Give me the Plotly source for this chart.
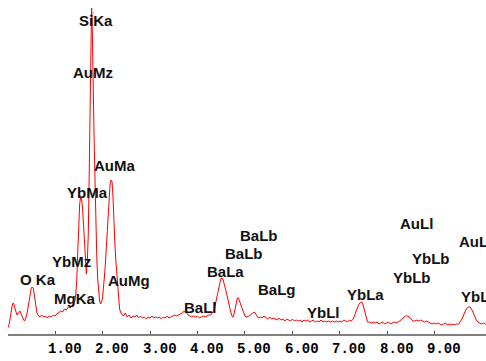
import plotly.graph_objects as go

# EDS spectrum: energy (keV) and counts per channel
energy_kev = [
    0.00, 0.02, 0.04, 0.06, 0.08, 0.10, 0.12, 0.14, 0.16, 0.18,
    0.20, 0.22, 0.24, 0.26, 0.28, 0.30, 0.32, 0.34, 0.36, 0.38,
    0.40, 0.42, 0.44, 0.46, 0.48, 0.50, 0.52, 0.54, 0.56, 0.58,
    0.60, 0.62, 0.64, 0.68, 0.72, 0.76, 0.80, 0.84, 0.88, 0.92,
    0.96, 1.00, 1.04, 1.08, 1.12, 1.16, 1.20, 1.24, 1.28, 1.32,
    1.36, 1.40, 1.42, 1.44, 1.46, 1.48, 1.50, 1.52, 1.54, 1.56,
    1.58, 1.60, 1.62, 1.64, 1.66, 1.68, 1.70, 1.72, 1.74, 1.76,
    1.77, 1.78, 1.80, 1.82, 1.84, 1.86, 1.88, 1.90, 1.92, 1.94,
    1.96, 1.98, 2.00, 2.02, 2.04, 2.06, 2.08, 2.10, 2.12, 2.14,
    2.16, 2.18, 2.20, 2.22, 2.24, 2.26, 2.28, 2.30, 2.32, 2.34,
    2.36, 2.38, 2.40, 2.44, 2.48, 2.52, 2.56, 2.60, 2.64, 2.68,
    2.72, 2.76, 2.80, 2.84, 2.88, 2.92, 2.96, 3.00, 3.04, 3.08,
    3.12, 3.16, 3.20, 3.24, 3.28, 3.32, 3.36, 3.40, 3.44, 3.48,
    3.52, 3.56, 3.60, 3.64, 3.68, 3.72, 3.76, 3.80, 3.84, 3.88,
    3.92, 3.96, 4.00, 4.04, 4.08, 4.12, 4.16, 4.20, 4.24, 4.28,
    4.30, 4.32, 4.34, 4.36, 4.38, 4.40, 4.42, 4.44, 4.46, 4.48,
    4.50, 4.52, 4.54, 4.56, 4.58, 4.60, 4.62, 4.64, 4.66, 4.68,
    4.70, 4.72, 4.74, 4.76, 4.78, 4.80, 4.82, 4.84, 4.86, 4.88,
    4.90, 4.92, 4.94, 4.96, 4.98, 5.00, 5.02, 5.04, 5.08, 5.12,
    5.16, 5.20, 5.24, 5.28, 5.32, 5.36, 5.40, 5.44, 5.48, 5.52,
    5.56, 5.60, 5.64, 5.68, 5.72, 5.76, 5.80, 5.84, 5.88, 5.92,
    5.96, 6.00, 6.04, 6.08, 6.12, 6.16, 6.20, 6.24, 6.28, 6.32,
    6.36, 6.40, 6.44, 6.48, 6.52, 6.56, 6.60, 6.64, 6.68, 6.72,
    6.76, 6.80, 6.84, 6.88, 6.92, 6.96, 7.00, 7.04, 7.08, 7.12,
    7.16, 7.20, 7.24, 7.28, 7.30, 7.32, 7.34, 7.36, 7.38, 7.40,
    7.42, 7.44, 7.46, 7.48, 7.50, 7.52, 7.54, 7.56, 7.58, 7.62,
    7.66, 7.70, 7.74, 7.78, 7.82, 7.86, 7.90, 7.94, 7.98, 8.02,
    8.06, 8.10, 8.14, 8.18, 8.22, 8.26, 8.30, 8.34, 8.38, 8.42,
    8.46, 8.50, 8.54, 8.58, 8.62, 8.66, 8.70, 8.74, 8.78, 8.82,
    8.86, 8.90, 8.94, 8.98, 9.02, 9.06, 9.10, 9.14, 9.18, 9.22,
    9.26, 9.30, 9.34, 9.38, 9.42, 9.46, 9.50, 9.54, 9.58, 9.62,
    9.66, 9.70, 9.74, 9.78, 9.82, 9.86, 9.90, 9.94, 9.98, 10.02,
    10.06, 10.10,
]

counts = [
    6, 7, 11, 17, 24, 29, 31, 29, 25, 21,
    19, 20, 22, 23, 21, 18, 16, 14, 13, 15,
    18, 23, 30, 36, 42, 46, 47, 46, 41, 32,
    25, 21, 19, 17, 19, 17, 18, 16, 18, 17,
    19, 18, 20, 22, 23, 22, 25, 24, 27, 26,
    29, 31, 33, 41, 56, 84, 112, 130, 137, 135,
    126, 107, 83, 64, 60, 72, 99, 159, 234, 314,
    326, 319, 244, 204, 159, 109, 76, 54, 40, 33,
    30, 32, 36, 44, 57, 70, 89, 108, 124, 141,
    150, 154, 153, 138, 108, 91, 74, 60, 44, 32,
    25, 22, 20, 18, 21, 17, 19, 16, 18, 17,
    19, 16, 18, 16, 17, 15, 17, 16, 18, 16,
    17, 16, 17, 15, 17, 16, 18, 16, 17, 18,
    19, 18, 19, 20, 21, 23, 22, 19, 18, 17,
    18, 17, 18, 16, 17, 18, 17, 18, 19, 19,
    20, 21, 23, 26, 31, 36, 41, 45, 49, 53,
    56, 56, 54, 51, 47, 43, 39, 34, 30, 26,
    22, 19, 17, 18, 22, 28, 33, 36, 36, 34,
    31, 28, 25, 22, 20, 18, 17, 17, 18, 19,
    21, 22, 19, 16, 17, 16, 18, 16, 15, 17,
    15, 16, 15, 14, 16, 14, 15, 13, 15, 14,
    13, 15, 13, 14, 13, 14, 12, 14, 13, 14,
    12, 13, 14, 12, 13, 12, 14, 12, 13, 12,
    13, 12, 13, 12, 13, 12, 13, 12, 14, 13,
    12, 14, 13, 15, 17, 20, 23, 26, 29, 30,
    31, 32, 32, 30, 26, 21, 17, 14, 12, 12,
    11, 12, 11, 12, 10, 11, 12, 10, 11, 12,
    10, 11, 12, 11, 12, 13, 15, 17, 18, 18,
    17, 15, 13, 13, 14, 13, 14, 13, 12, 13,
    12, 11, 10, 11, 10, 11, 10, 9, 10, 11,
    9, 10, 9, 10, 9, 10, 10, 13, 16, 21,
    25, 27, 27, 24, 19, 15, 12, 11, 10, 11,
    10, 10,
]

# Peak identification labels: text, energy (keV), height (counts), anchor
peak_labels = ["SiKa", "AuMz", "AuMa", "YbMa", "YbMz", "O Ka", "MgKa", "AuMg",
               "BaLl", "BaLa", "BaLb", "BaLb", "BaLg", "YbLl", "YbLa",
               "AuLl", "YbLb", "YbLb", "AuLa", "YbLg"]
label_energy = [1.863, 1.80, 2.263, 1.674, 1.337, 0.642, 1.40, 2.558,
                4.053, 4.60, 4.979, 5.295, 5.674, 6.663, 7.547,
                8.605, 8.916, 8.516, 9.463, 9.505]
label_height = [314, 262, 169, 142, 73, 55, 36, 54,
                27, 63, 81, 99, 45, 22, 40,
                111, 76, 57, 93, 38]
label_anchor = ["center"] * 18 + ["left", "left"]

# Energy axis ticks
tick_values = [1, 2, 3, 4, 5, 6, 7, 8, 9]
tick_labels = ["1.00", "2.00", "3.00", "4.00", "5.00", "6.00", "7.00", "8.00", "9.00"]

fig = go.Figure()
fig.add_trace(go.Scatter(
    x=energy_kev, y=counts, mode="lines",
    line=dict(color="#ff0000", width=1),
    hoverinfo="skip", showlegend=False, cliponaxis=False,
))

for txt, ex, cy, anc in zip(peak_labels, label_energy, label_height, label_anchor):
    fig.add_annotation(
        x=ex, y=cy, xref="x", yref="y", text=txt, showarrow=False,
        xanchor=anc, yanchor="middle",
        font=dict(family="Liberation Sans", size=15, color="#111111", weight="bold"),
    )

for tv, tl in zip(tick_values, tick_labels):
    fig.add_annotation(
        x=tv, y=0, xref="x", yref="y", text=tl, showarrow=False,
        xanchor="center", yanchor="middle", xshift=9.5, yshift=-14.5,
        font=dict(family="Liberation Mono", size=14, color="#000000", weight="bold"),
    )

fig.update_layout(
    width=486, height=361,
    margin=dict(l=8, r=0, t=0, b=27),
    paper_bgcolor="white", plot_bgcolor="white",
    xaxis=dict(
        range=[0.0105, 10.074], showgrid=False, zeroline=False,
        showline=True, linecolor="#808080", linewidth=2,
        ticks="inside", ticklen=3, tickwidth=1, tickcolor="#505050",
        tickvals=tick_values, showticklabels=False, fixedrange=True,
    ),
    yaxis=dict(range=[0, 334], visible=False, fixedrange=True),
)

fig.write_html("out.html")
